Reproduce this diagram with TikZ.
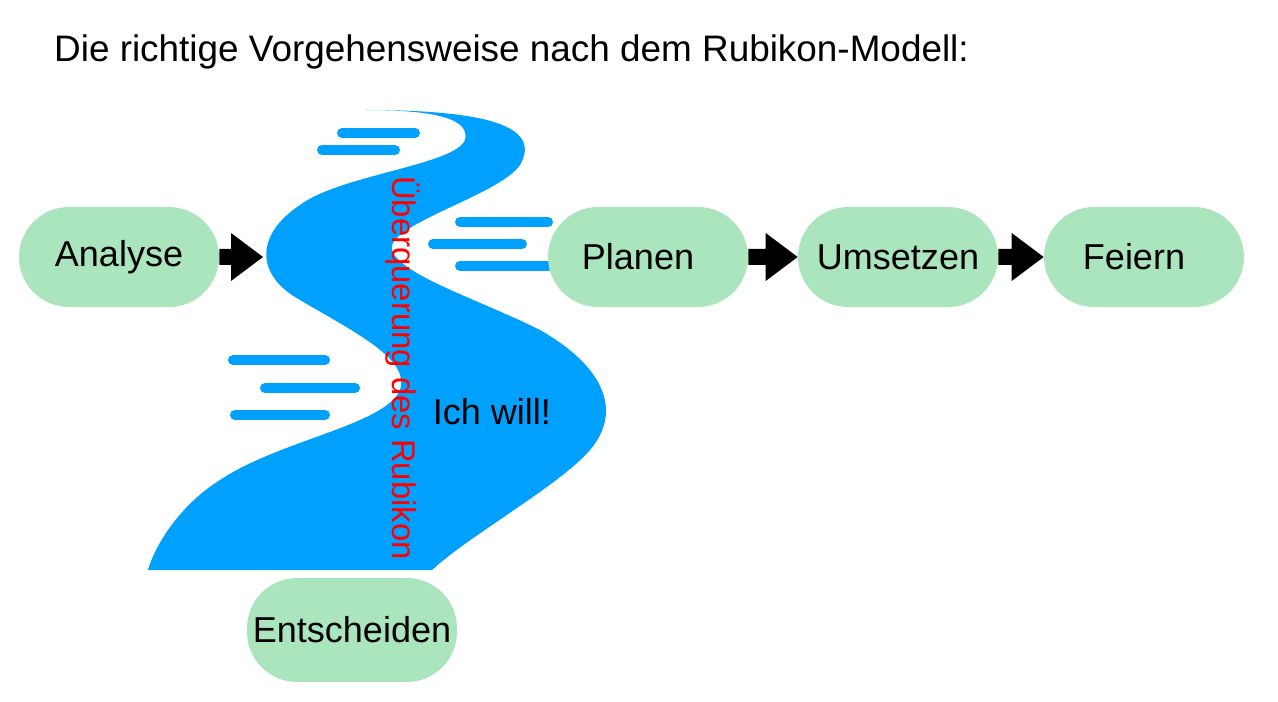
\documentclass[tikz,border=0pt]{standalone}
\usepackage{fontspec}
\setmainfont{Liberation Sans}
\definecolor{stepgreen}{HTML}{ABE5BD}
\definecolor{riverblue}{HTML}{00A0FF}
\usetikzlibrary{calc}
\tikzset{
  phase/.style={fill=stepgreen, rounded corners=1cm, minimum width=4cm, minimum height=2cm, font=\fontsize{20.5}{22}\selectfont},
  wave/.style={riverblue, line width=0.2cm, line cap=round}
}
\newcommand{\blockarr}[2]{\fill ($(#1)+(0,8)$) -- ($(#2)+(-32,8)$) -- ($(#2)+(-32,24)$) -- (#2) -- ($(#2)+(-32,-24)$) -- ($(#2)+(-32,-8)$) -- ($(#1)+(0,-8)$) -- cycle;}
\begin{document}
\begin{tikzpicture}[x=0.02cm,y=-0.02cm]
\useasboundingbox (0,0) rectangle (1278,702);

\node[anchor=west, font=\fontsize{21}{24}\selectfont] (title) at (48,52) {Die richtige Vorgehensweise nach dem Rubikon-Modell:};

% river
\fill[riverblue] (365,110) .. controls (440,110) and (470,120) .. (465,140)
  .. controls (455,165) and (340,175) .. (300,205)
  .. controls (255,235) and (255,275) .. (300,300)
  .. controls (360,335) and (410,360) .. (400,390)
  .. controls (385,425) and (280,440) .. (220,480)
  .. controls (180,505) and (155,545) .. (148,570)
  -- (432,570)
  .. controls (470,535) and (560,485) .. (590,450)
  .. controls (620,415) and (610,370) .. (540,330)
  .. controls (480,300) and (400,275) .. (392,250)
  .. controls (385,225) and (500,195) .. (520,165)
  .. controls (540,130) and (500,110) .. (365,110) -- cycle;

\foreach \xa/\xb/\y in {342/415/133, 322/395/150, 460/548/222, 433/522/244, 460/548/266, 233/325/360, 265/355/388, 235/325/415}
  \draw[wave] (\xa,\y) -- (\xb,\y);

\node[rotate=-90, red, font=\fontsize{18.7}{20}\selectfont] (crossing) at (403,368) {Überquerung des Rubikon};
\node[font=\fontsize{20.5}{22}\selectfont] (will) at (492,412) {Ich will!};

% phases
\node[phase] (analyse) at (119,257) {Analyse};
\node[phase] (planen) at (648,257) {\hspace*{-0.4cm}Planen};
\node[phase] (umsetzen) at (898,257) {Umsetzen};
\node[phase] (feiern) at (1144,257) {\hspace*{-0.4cm}Feiern};
\node[phase, minimum width=4.2cm, minimum height=2.08cm] (entscheiden) at (352,630) {Entscheiden};

\coordinate (bank) at (263,257);
\blockarr{analyse.east}{bank}
\blockarr{planen.east}{umsetzen.west}
\blockarr{umsetzen.east}{feiern.west}

\end{tikzpicture}
\end{document}
